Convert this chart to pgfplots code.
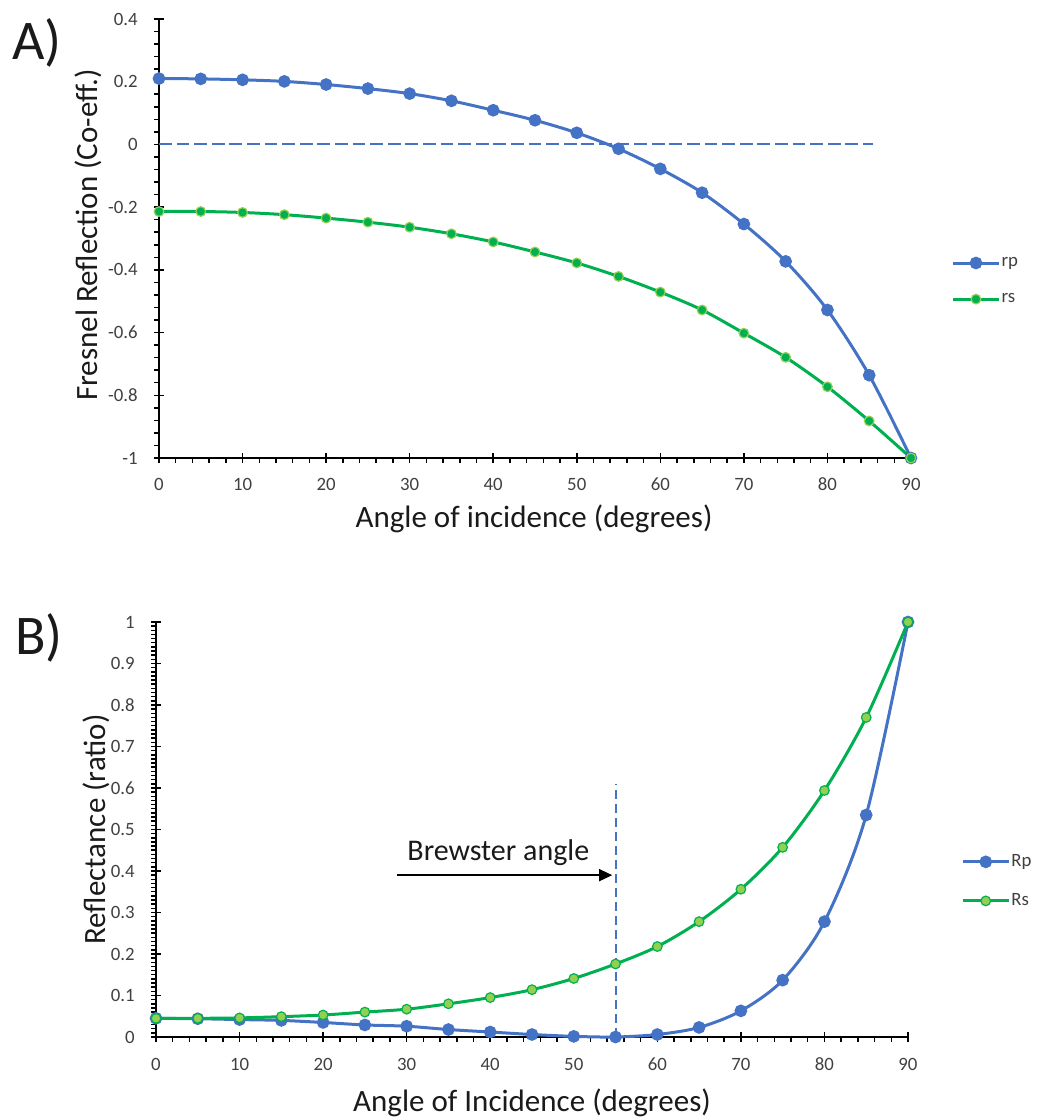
\documentclass[border=0pt]{standalone}
\usepackage{fontspec}
\setmainfont{Carlito}
\usepackage{pgfplots}
\pgfplotsset{compat=1.18}
\usetikzlibrary{arrows.meta}
\definecolor{xblue}{HTML}{4472C4}
\definecolor{xgreen}{HTML}{00B050}
\definecolor{xlgreen}{HTML}{92D050}
\definecolor{tickc}{HTML}{404040}
\definecolor{titc}{HTML}{1A1A1A}

\pgfplotstableread{
x y
0 0.210
5 0.209
10 0.206
15 0.201
20 0.191
25 0.178
30 0.162
35 0.139
40 0.109
45 0.077
50 0.037
55 -0.014
60 -0.078
65 -0.154
70 -0.254
75 -0.373
80 -0.528
85 -0.736
90 -1
}\rp
\pgfplotstableread{
x y
0 -0.214
5 -0.214
10 -0.217
15 -0.224
20 -0.235
25 -0.248
30 -0.264
35 -0.285
40 -0.311
45 -0.343
50 -0.378
55 -0.421
60 -0.471
65 -0.528
70 -0.602
75 -0.679
80 -0.773
85 -0.882
90 -1
}\rs
\pgfplotstableread{
x y
0 0.045
5 0.044
10 0.042
15 0.040
20 0.035
25 0.029
30 0.026
35 0.018
40 0.012
45 0.006
50 0.0015
55 0.0
60 0.006
65 0.023
70 0.063
75 0.137
80 0.278
85 0.535
90 1
}\Rp
\pgfplotstableread{
x y
0 0.045
5 0.045
10 0.046
15 0.049
20 0.053
25 0.060
30 0.067
35 0.080
40 0.095
45 0.114
50 0.141
55 0.176
60 0.218
65 0.278
70 0.356
75 0.457
80 0.594
85 0.770
90 1
}\Rs

\pgfplotsset{
 excel/.style={
  scale only axis, clip=false,
  axis lines=left, axis line style={-, black, line width=1pt},
  tick align=outside,
  major tick length=5pt, minor tick length=2.5pt,
  every major x tick/.append style={yshift=2.5pt},
  every major y tick/.append style={xshift=2.5pt},
  tick style={black, line width=0.75pt},
  xmin=0, xmax=90, xtick={0,10,...,90}, minor x tick num=4,
  /pgf/number format/assume math mode=true,
  ticklabel style={font=\fontsize{9.4}{10}\selectfont, text=tickc},
  xticklabel style={anchor=base, inner sep=0pt, yshift=-11.5pt},
  yticklabel style={anchor=east, inner sep=0pt, xshift=-5.5pt},
  legend style={draw=none, fill=none, font=\fontsize{9.4}{10}\selectfont,
    text=tickc, anchor=west, row sep=12pt, legend cell align=left,
    nodes={inner xsep=0.8pt, inner ysep=0pt}},
  legend image code/.code={\draw[mark repeat=2,mark phase=2] plot coordinates {(0pt,0pt) (11.25pt,0pt) (22.5pt,0pt)};},
 },
 ser/.style={line width=1.5pt, smooth, mark=*, mark size=2.4pt},
}

\begin{document}
\begin{tikzpicture}[x=0.5pt,y=0.5pt]
\useasboundingbox (0,0) rectangle (1037,1119);

% ---------- A ----------
\begin{axis}[excel,
  at={(79.5pt,330.5pt)}, anchor=south west,
  width=376pt, height=219.5pt,
  ymin=-1, ymax=0.4,
  ytick={-1,-0.8,-0.6,-0.4,-0.2,0,0.2,0.4},
  minor y tick num=4,
  legend style={at={(1.046,0.403)}},
]
\addplot[xblue, line width=1pt, dash pattern=on 6.4pt off 2.4pt, forget plot] coordinates {(0,0) (85.4,0)};
\addplot[ser, xblue, mark options={fill=xblue, draw=xblue}] table {\rp};
\addlegendentry{rp}
\addplot[ser, xgreen, mark options={fill=xgreen, draw=xlgreen, line width=0.6pt}] table {\rs};
\addlegendentry{rs}
\end{axis}

% ---------- B ----------
\begin{axis}[excel,
  at={(78pt,41pt)}, anchor=south west,
  width=376pt, height=207.5pt,
  ymin=0, ymax=1,
  ytick={0,0.1,0.2,0.3,0.4,0.5,0.6,0.7,0.8,0.9,1},
  minor y tick num=9,
  legend style={at={(1.063,0.375)}},
]
\addplot[xblue, line width=1pt, dash pattern=on 4.5pt off 2.5pt, forget plot] coordinates {(55,0) (55,0.61)};
\addplot[ser, xblue, mark options={fill=xblue, draw=xblue}] table {\Rp};
\addlegendentry{Rp}
\addplot[ser, xgreen, mark options={fill=xlgreen, draw=xgreen, line width=0.6pt}] table {\Rs};
\addlegendentry{Rs}
\draw[black, line width=0.7pt, -{Triangle[length=6.5pt,width=6pt]}] (axis cs:28.8,0.39) -- (axis cs:54.6,0.39);
\node[anchor=base, font=\fontsize{15}{16}\selectfont, text=titc, inner sep=0pt] at (axis cs:40.97,0.425) {Brewster angle};
\end{axis}

% ---------- titles ----------
\node[anchor=base west, font=\fontsize{28}{30}\selectfont, text=titc, inner sep=0pt] at (12,1059) {A)};
\node[anchor=base west, font=\fontsize{28}{30}\selectfont, text=titc, inner sep=0pt] at (15,464) {B)};
\node[anchor=base, font=\fontsize{15.5}{17}\selectfont, text=titc, inner sep=0pt] at (534,591) {Angle of incidence (degrees)};
\node[anchor=base, font=\fontsize{15.5}{17}\selectfont, text=titc, inner sep=0pt] at (532,8) {Angle of Incidence (degrees)};
\node[anchor=base, rotate=90, font=\fontsize{15.5}{17}\selectfont, text=titc, inner sep=0pt] at (97,884) {Fresnel Reflection (Co-eff.)};
\node[anchor=base, rotate=90, font=\fontsize{15.5}{17}\selectfont, text=titc, inner sep=0pt] at (105,289.5) {Reflectance (ratio)};
\end{tikzpicture}
\end{document}
